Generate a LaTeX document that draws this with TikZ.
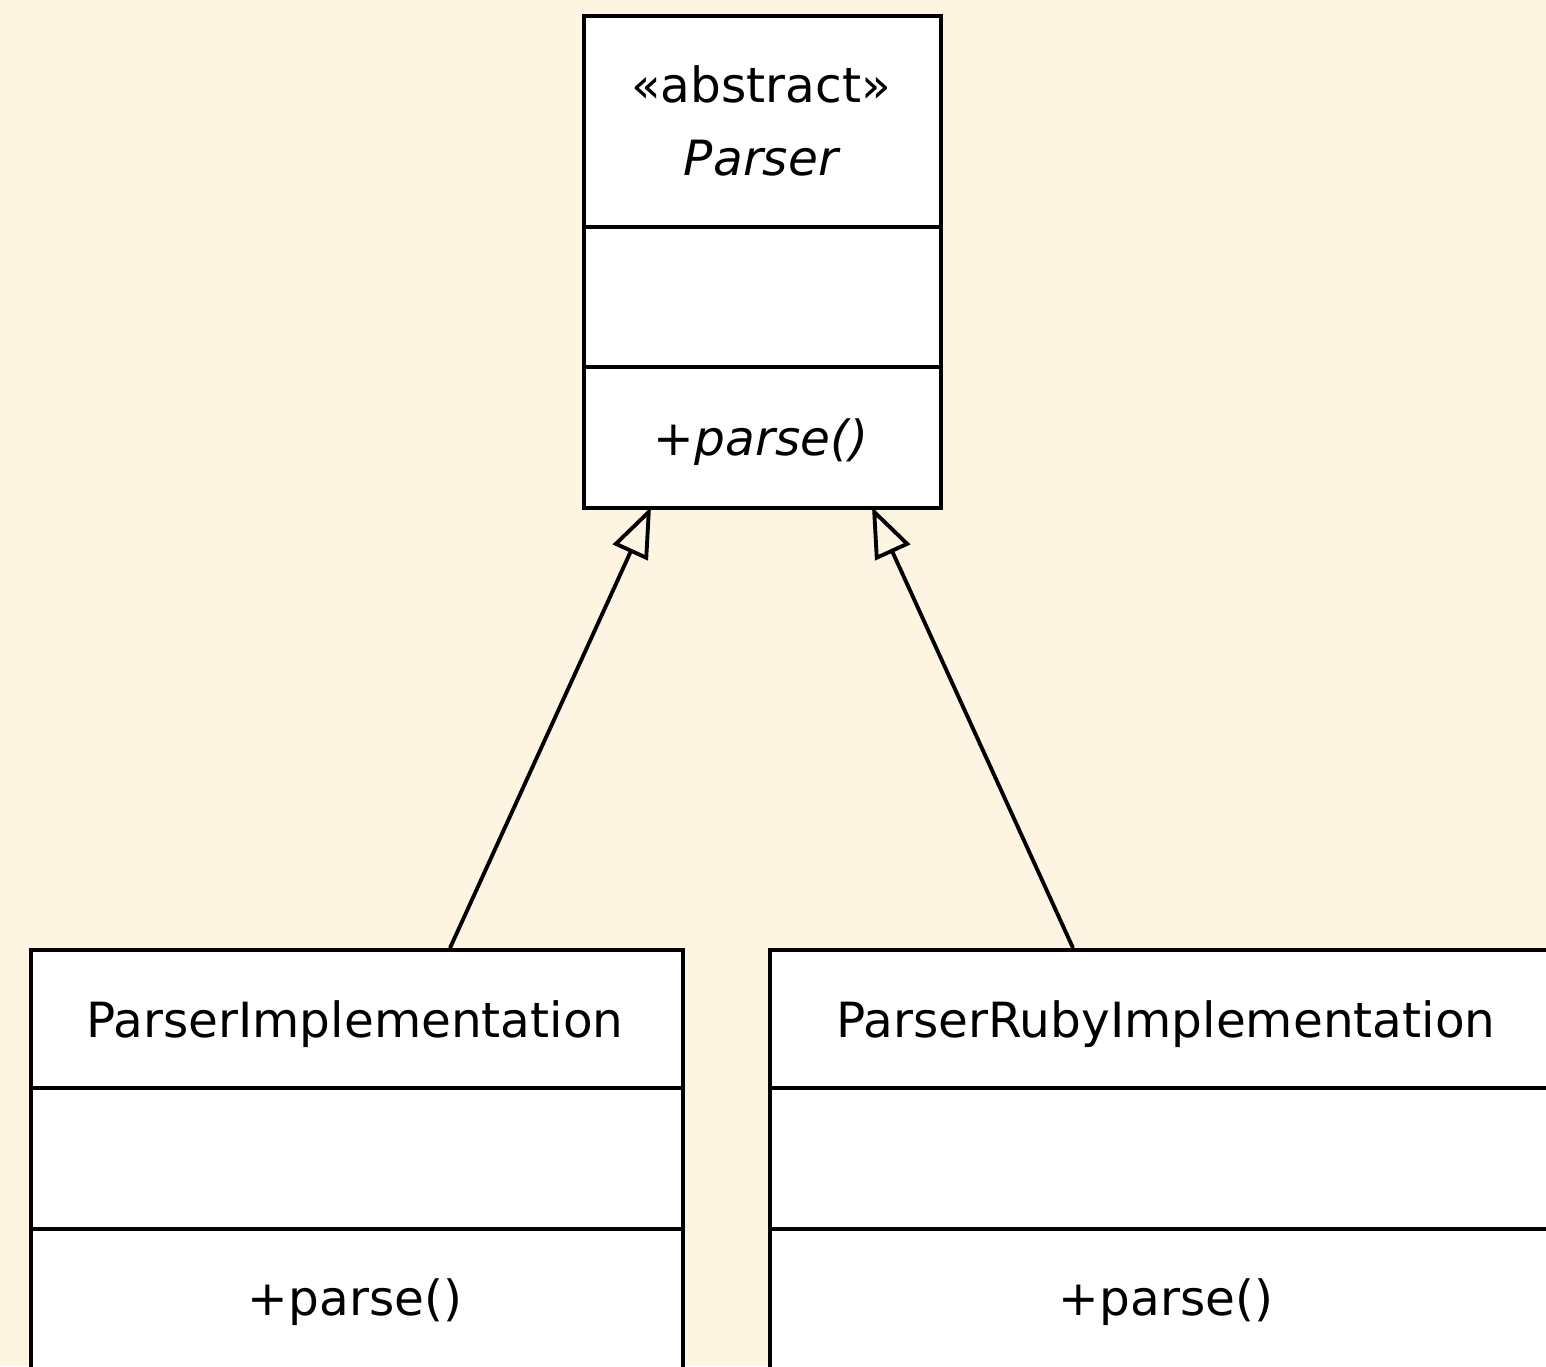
\documentclass[tikz,border=0pt]{standalone}
\usepackage{fontspec}
\setmainfont{DejaVu Sans}
\usetikzlibrary{arrows.meta,calc}
\definecolor{bg}{RGB}{253,245,226}
\begin{document}
\begin{tikzpicture}[x=0.01cm,y=-0.01cm,
  box/.style={draw=black, fill=white, line width=1.1pt, anchor=north west, inner sep=0pt},
  sep/.style={line width=1.1pt},
  txt/.style={anchor=base, inner sep=0pt, font=\fontsize{13.8pt}{16pt}\selectfont},
  gen/.style={line width=1.1pt, -{Triangle[open, length=0.5cm, width=0.38cm, line width=1.1pt]}}]
\useasboundingbox (0,0) rectangle (1546,1366);
\clip (0,0) rectangle (1546,1366);
\fill[bg] (0,0) rectangle (1546,1366);
% top class
\node[box, minimum width=3.57cm, minimum height=4.92cm] (top) at (582,14) {};
\draw[sep] (582,227) -- (939,227);
\draw[sep] (582,367) -- (939,367);
\node[txt] (stereo) at (761,102) {«abstract»};
\node[txt] (tname) at (761,175) {\itshape Parser};
\node[txt] (topop) at (761,455) {+\textit{parse()}};
% bottom-left class
\node[box, minimum width=6.52cm, minimum height=5cm] (impl) at (29,948) {};
\draw[sep] (29,1088) -- (681,1088);
\draw[sep] (29,1229) -- (681,1229);
\node[txt] (iname) at (355,1037) {ParserImplementation};
\node[txt] (iop) at (355,1315) {+parse()};
% bottom-right class
\node[box, minimum width=7.94cm, minimum height=5cm] (ruby) at (768,948) {};
\draw[sep] (768,1088) -- (1562,1088);
\draw[sep] (768,1229) -- (1562,1229);
\node[txt] (rname) at (1166,1037) {ParserRubyImplementation};
\node[txt] (rop) at (1166,1315) {+parse()};
% connectors
\coordinate (pa) at (651,507);
\coordinate (pb) at (872,507);
\coordinate (ca) at (450,948);
\coordinate (cb) at (1073,948);
\draw[gen] (ca) -- (pa);
\draw[gen] (cb) -- (pb);
\end{tikzpicture}
\end{document}
